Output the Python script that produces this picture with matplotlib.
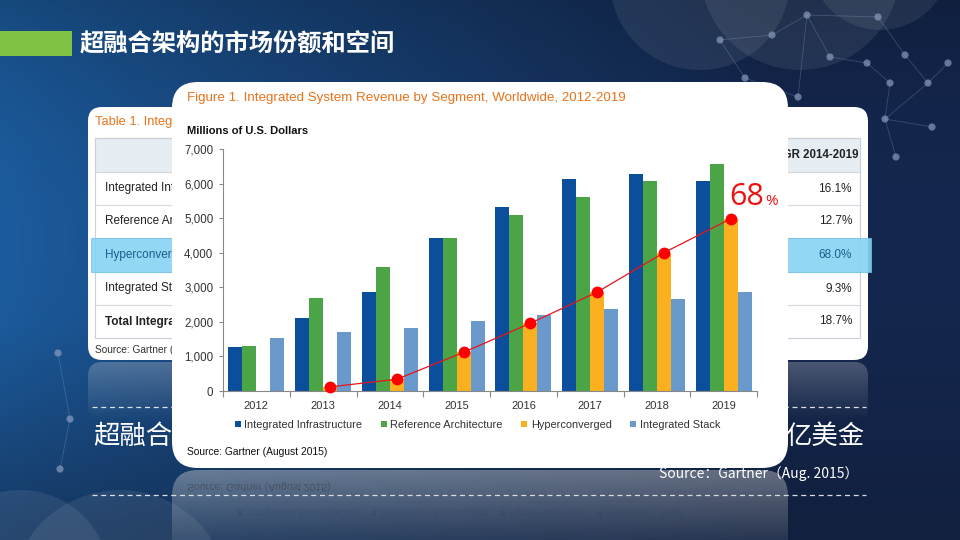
import numpy as np
import matplotlib
matplotlib.use('Agg')
import matplotlib.pyplot as plt
from matplotlib.patches import FancyBboxPatch, Rectangle, Circle, PathPatch
from matplotlib.textpath import TextPath
from matplotlib.transforms import Affine2D
from matplotlib.font_manager import FontProperties, fontManager

# ---------------- data ----------------
years = ['2012', '2013', '2014', '2015', '2016', '2017', '2018', '2019']
integrated_infrastructure = [1280, 2100, 2860, 4420, 5310, 6120, 6270, 6060]
reference_architecture = [1290, 2700, 3600, 4430, 5090, 5600, 6060, 6560]
hyperconverged = [0, 120, 340, 1120, 1960, 2860, 4000, 4980]
integrated_stack = [1530, 1710, 1820, 2020, 2190, 2370, 2650, 2860]
series_names = ['Integrated Infrastructure', 'Reference Architecture',
                'Hyperconverged', 'Integrated Stack']
series_colors = ['#0B4F9C', '#4BA547', '#FBB020', '#6A9ACB']
y_ticks = [0, 1000, 2000, 3000, 4000, 5000, 6000, 7000]

table_rows = ['Integrated Infrastructure', 'Reference Architecture',
              'Hyperconverged', 'Integrated Stack', 'Total Integrated Systems']
table_cagr = ['16.1%', '12.7%', '68.0%', '9.3%', '18.7%']

slide_title = '超融合架构的市场份额和空间'
chart_title = 'Figure 1. Integrated System Revenue by Segment, Worldwide, 2012-2019'
table_title = 'Table 1. Integrated System Revenue by Segment, Worldwide'
unit_label = 'Millions of U.S. Dollars'
chart_source = 'Source: Gartner (August 2015)'
slide_source = 'Source：Gartner（Aug. 2015）'
growth_label = '68'

# ---------------- fonts ----------------
names = {f.name for f in fontManager.ttflist}
LAT = ['Liberation Sans Narrow', 'Liberation Sans', 'DejaVu Sans'] if 'Liberation Sans Narrow' in names \
    else ['Liberation Sans', 'DejaVu Sans']
CJK = ['Noto Sans CJK SC', 'DejaVu Sans']
plt.rcParams['font.family'] = LAT

fig = plt.figure(figsize=(9.6, 5.4), dpi=100)
bg = fig.add_axes([0, 0, 1, 1])
bg.set_xlim(0, 960)
bg.set_ylim(540, 0)
bg.axis('off')
renderer = fig.canvas.get_renderer()


def visible_text(xp, yp, s, limit_px, **kw):
    """Text that lies partly under the chart card: keep only the part left of the card."""
    t = bg.text(xp, yp, s, **kw)
    while len(s) > 1 and t.get_window_extent(renderer).x1 > limit_px:
        s = s[:-1]
        t.set_text(s)
    return t


# ---------------- background gradient ----------------
H, W = 270, 480
xx = np.linspace(0, 1, W)[None, :]
yy = np.linspace(0, 1, H)[:, None]
left = np.array([0x1C, 0x5C, 0x9E]) / 255
right = np.array([0x14, 0x27, 0x4E]) / 255
t = np.clip(xx * 1.25, 0, 1) ** 0.9
img = left[None, None, :] * (1 - t[..., None]) + right[None, None, :] * t[..., None]
shade = 1 - 0.25 * (yy - 0.45) ** 2 * 4
shade = np.clip(shade, 0.72, 1.0)
img = img * shade[..., None] * np.ones((H, W, 1))
bottom_mix = np.clip((yy - 0.6) / 0.4, 0, 1)[..., None]
img = img * (1 - 0.35 * bottom_mix) + np.array([0x18, 0x28, 0x4C]) / 255 * 0.35 * bottom_mix
bg.imshow(np.clip(img, 0, 1), extent=(0, 960, 540, 0), aspect='auto', zorder=0)

# decorative network
for (cx, cy, r) in [(700, -20, 90), (800, -30, 100), (880, -40, 70), (120, 600, 110), (20, 580, 90)]:
    bg.add_patch(Circle((cx, cy), r, facecolor='white', alpha=0.08, lw=0, zorder=1))
nodes = [(807, 15), (878, 17), (772, 35), (720, 40), (830, 57), (867, 63), (905, 55),
         (928, 83), (948, 63), (890, 83), (745, 78), (798, 97), (885, 119), (932, 127),
         (896, 157), (58, 353), (70, 419), (60, 469)]
edges = [(0, 1), (0, 2), (2, 3), (0, 4), (4, 5), (5, 9), (6, 7), (6, 1), (7, 8), (3, 10),
         (10, 11), (0, 11), (9, 12), (12, 13), (12, 14), (7, 12), (15, 16), (16, 17)]
for a, b in edges:
    bg.plot([nodes[a][0], nodes[b][0]], [nodes[a][1], nodes[b][1]], color='#8FA9CF',
            lw=0.6, alpha=0.3, zorder=1)
for (nx, ny) in nodes:
    bg.add_patch(Circle((nx, ny), 3.6, facecolor='#8FA3C4', alpha=0.65, lw=0, zorder=1))

# slide title
bg.add_patch(Rectangle((0, 31), 72, 25, facecolor='#7DC242', lw=0, zorder=2))
bg.text(80, 44, slide_title, color='white', fontsize=17.5, fontweight='bold',
        family=CJK, va='center', ha='left', zorder=2)

# dashed lines and bottom text
for yd in (407, 495):
    bg.plot([92, 866], [yd, yd], color='white', lw=0.9, ls=(0, (4, 3)), alpha=0.85, zorder=2)
bg.text(93, 436, '超融合', color='white', fontsize=19, family=CJK, va='center', ha='left', zorder=2)
bg.text(864, 436, '亿美金', color='white', fontsize=19, family=CJK, va='center', ha='right', zorder=2)
bg.text(858, 474, slide_source, color='white', fontsize=10, family=CJK, va='center',
        ha='right', zorder=7)

# ---------------- table card (behind) ----------------
bg.add_patch(FancyBboxPatch((88, 107), 780, 253, boxstyle='round,pad=0,rounding_size=14',
                            facecolor='white', edgecolor='none', zorder=3))
trefl = FancyBboxPatch((88, 362), 780, 60, boxstyle='round,pad=0,rounding_size=14',
                       facecolor='none', edgecolor='none', zorder=3)
bg.add_patch(trefl)
tg = np.zeros((60, 10, 4))
tg[..., :3] = 0.85
tg[..., 3] = np.linspace(0.28, 0.0, 60)[:, None]
tim = bg.imshow(tg, extent=(88, 868, 422, 362), aspect='auto', zorder=3)
tim.set_clip_path(trefl)

visible_text(95, 122, table_title, 176, color='#E8731A', fontsize=9.3, va='center', ha='left', zorder=3)
bg.add_patch(Rectangle((95, 138), 765, 34, facecolor='#E6EDF3', edgecolor='#C9D2DA', lw=0.8, zorder=3))
bg.add_patch(Rectangle((95, 138), 765, 200, facecolor='none', edgecolor='#C9D2DA', lw=0.8, zorder=3.2))
row_tops = [172, 205, 238, 272, 305, 338]
for yl in row_tops:
    bg.plot([95, 860], [yl, yl], color='#D3D9DE', lw=0.8, zorder=3.1)
bg.text(858, 155, 'CAGR 2014-2019', fontsize=8.3, fontweight='bold', color='#222222',
        va='center', ha='right', zorder=3.3)
for i, (name, val) in enumerate(zip(table_rows, table_cagr)):
    yc = (row_tops[i] + row_tops[i + 1]) / 2
    col = '#222222'
    if name == 'Hyperconverged':
        bg.add_patch(Rectangle((91, row_tops[i]), 780, row_tops[i + 1] - row_tops[i],
                               facecolor='#86D3F3', edgecolor='#6CC3EA', lw=0.6, alpha=0.9, zorder=3.2))
        col = '#1D5E8C'
    bold = 'bold' if name.startswith('Total') else 'normal'
    visible_text(105, yc, name, 177, fontsize=8.5, color=col, fontweight=bold,
                 va='center', ha='left', zorder=3.3)
    bg.text(852, yc, val, fontsize=8.5, color=col, va='center', ha='right', zorder=3.3)
visible_text(95, 350, chart_source, 177, fontsize=7.3, color='#333333',
             va='center', ha='left', zorder=3.3)

# ---------------- chart card ----------------
bg.add_patch(FancyBboxPatch((172, 82), 616, 386, boxstyle='round,pad=0,rounding_size=26',
                            facecolor='white', edgecolor='none', zorder=5))
refl = FancyBboxPatch((172, 470), 616, 110, boxstyle='round,pad=0,rounding_size=26',
                      facecolor='none', edgecolor='none', zorder=5)
bg.add_patch(refl)
grad = np.zeros((80, 10, 4))
grad[..., :3] = 0.85
grad[..., 3] = np.linspace(0.42, 0.12, 80)[:, None]
im = bg.imshow(grad, extent=(172, 788, 540, 470), aspect='auto', zorder=5)
im.set_clip_path(refl)


def mirror_text(s, x, y_base, size_px, color, alpha, ha='left'):
    fp = FontProperties(family=LAT[0])
    tp = TextPath((0, 0), s, size=size_px, prop=fp)
    ext = tp.get_extents()
    dx = x if ha == 'left' else x - ext.width / 2
    path = Affine2D().translate(dx, y_base).transform_path(tp)
    bg.add_patch(PathPatch(path, facecolor=color, edgecolor='none', alpha=alpha, zorder=5.5))


mirror_text(chart_source, 187, 484, 10.5, '#333333', 0.45)
mirror_text('   '.join(['\u25A0 ' + n for n in series_names]), 237, 510, 10.8, '#334466', 0.35)
for i, yr in enumerate(years):
    mirror_text(yr, 257 + 66.7 * i, 530, 11, '#334466', 0.3, ha='center')

bg.text(187, 98, chart_title, color='#E8731A', fontsize=9.6, va='center', ha='left', zorder=6)
bg.text(187, 131, unit_label, color='#111111', fontsize=8, fontweight='bold',
        va='center', ha='left', zorder=6)
bg.text(187, 452, chart_source, color='#111111', fontsize=7.4, va='center', ha='left', zorder=6)

# ---------------- chart ----------------
ax = fig.add_axes([223 / 960, (540 - 391) / 540, 534 / 960, 242 / 540])
ax.set_facecolor('none')
x = np.arange(len(years))
w = 0.21
series = [integrated_infrastructure, reference_architecture, hyperconverged, integrated_stack]
handles = []
for k, (vals, c, n) in enumerate(zip(series, series_colors, series_names)):
    b = ax.bar(x + (k - 1.5) * w, vals, width=w, color=c, label=n, zorder=2)
    handles.append(b)
hx = x[1:] + 0.5 * w
ax.plot(hx, hyperconverged[1:], color='#E8141B', lw=0.9, marker='o', ms=7.5,
        markerfacecolor='#FF0000', markeredgecolor='#FF0000', zorder=4, clip_on=False)
ax.set_xlim(-0.5, len(years) - 0.5)
ax.set_ylim(0, 7000)
ax.set_yticks(y_ticks)
ax.set_yticklabels([f'{v:,}' for v in y_ticks], fontsize=8.3, color='#333333')
ax.set_xticks(x)
ax.set_xticklabels(years, fontsize=8, color='#333333')
ax.set_xticks(np.arange(len(years) + 1) - 0.5, minor=True)
ax.tick_params(axis='x', which='major', length=0, pad=7)
ax.tick_params(axis='x', which='minor', length=4, color='#888888', width=0.8)
ax.tick_params(axis='y', length=3, color='#888888', width=0.8, pad=4)
for s in ('top', 'right'):
    ax.spines[s].set_visible(False)
for s in ('left', 'bottom'):
    ax.spines[s].set_color('#888888')
    ax.spines[s].set_linewidth(0.8)

leg = ax.legend(handles=handles, loc='center', bbox_to_anchor=((477.5 - 223) / 534, (391 - 425) / 242),
                ncol=4, frameon=False, fontsize=7.9, handlelength=0.55, handleheight=0.55,
                handletextpad=0.3, columnspacing=1.7, borderaxespad=0)
for txt in leg.get_texts():
    txt.set_color('#333333')

# 68% annotation
bg.text(729, 205, growth_label, color='#EE1111', fontsize=22, family=['Open Sans', 'DejaVu Sans'],
        va='baseline', ha='left', zorder=7)
bg.text(765, 205, '%', color='#EE1111', fontsize=11, family=['Open Sans', 'DejaVu Sans'],
        va='baseline', ha='left', zorder=7)

fig.savefig('out.png', dpi=100)
